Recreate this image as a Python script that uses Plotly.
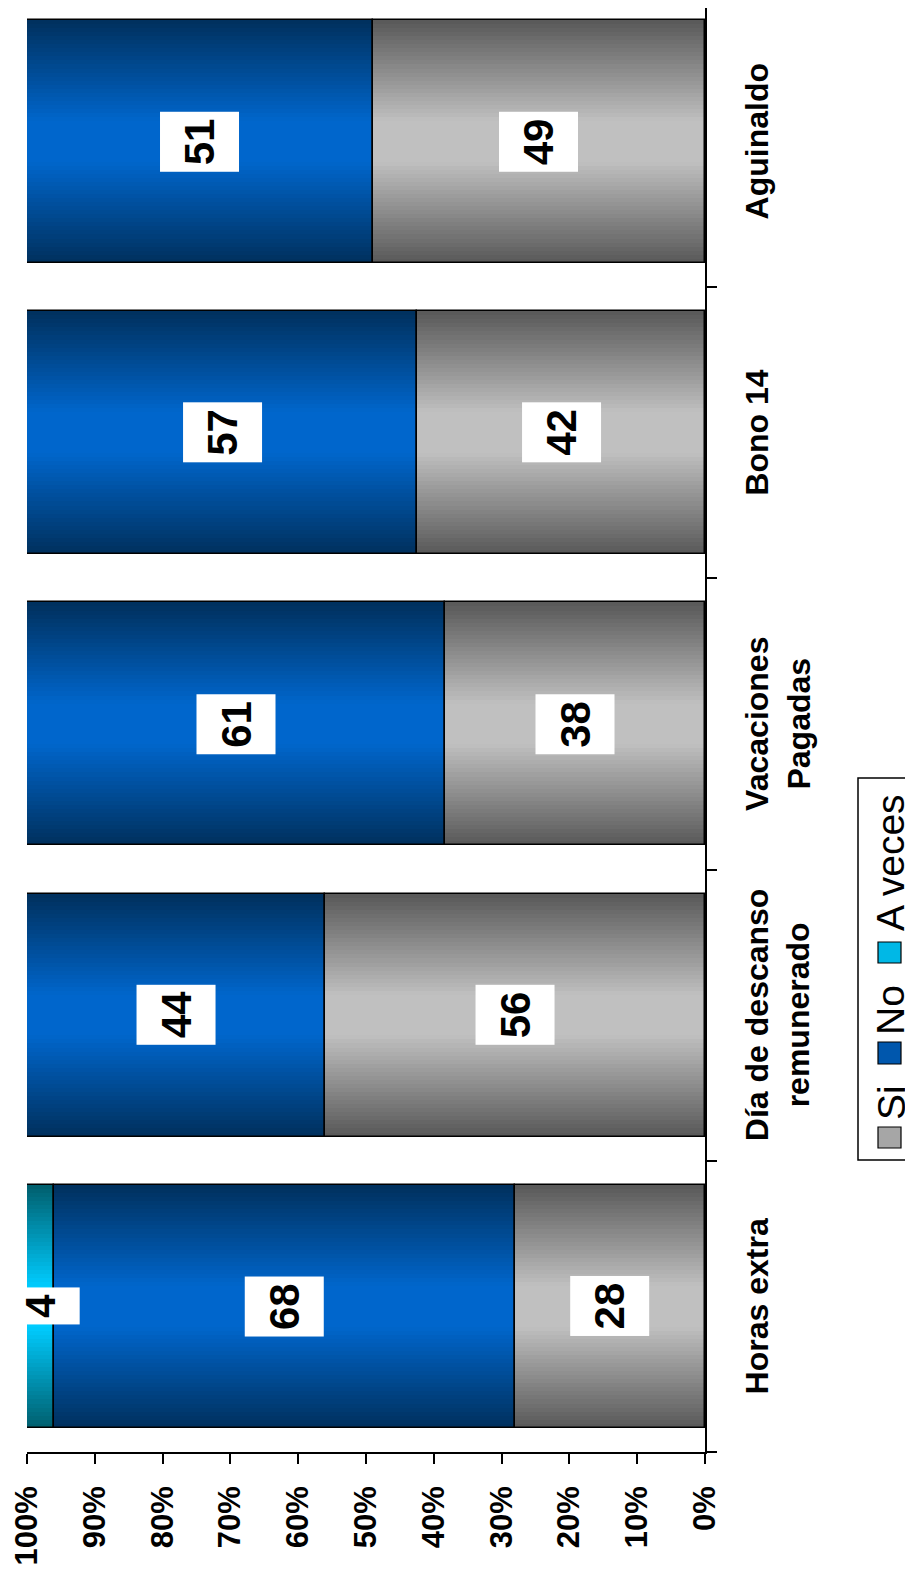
import plotly.graph_objects as go

# ---------------- data ----------------
categories = ["Horas extra", "Día de descanso<br>remunerado", "Vacaciones<br>Pagadas", "Bono 14", "Aguinaldo"]
series_names = ["Si", "No", "A veces"]
si_values = [28, 56, 38, 42, 49]
no_values = [68, 44, 61, 57, 51]
aveces_values = [4, 0, 0, 0, 0]
x_tick_values = [0, 10, 20, 30, 40, 50, 60, 70, 80, 90, 100]
x_tick_labels = ["0%", "10%", "20%", "30%", "40%", "50%", "60%", "70%", "80%", "90%", "100%"]

# ---------------- style ----------------
FONT = "Liberation Sans, Arial, sans-serif"
W, H = 913, 1575
OFF = 8  # browser default body margin
# plot area in page px
PL, PR, PB = 27, 705, 1452
BAND_PX = 291.25
BAR_W = 0.834
N_LAYERS = 30

pl, pr, pb = PL - OFF, PR - OFF, PB - OFF  # in figure px
y_top = -0.5 + pb / BAND_PX

series_styles = {
    "Si": ("#5a5a5a", "#c0c0c0", "#a6a6a6"),
    "No": ("#00315f", "#0066cc", "#0057ad"),
    "A veces": ("#00606f", "#00ccff", "#00b8e6"),
}


def hex2rgb(h):
    h = h.lstrip("#")
    return tuple(int(h[i:i + 2], 16) for i in (0, 2, 4))


def mix(c1, c2, t):
    a, b = hex2rgb(c1), hex2rgb(c2)
    return "rgb(%d,%d,%d)" % tuple(round(a[i] + (b[i] - a[i]) * t) for i in range(3))


def px_x(px):  # page px -> paper
    return (px - PL) / (PR - PL)


def px_y(py):  # page px -> paper
    return (PB - py) / pb


series_values = [si_values, no_values, aveces_values]
totals = [sum(v) for v in zip(*series_values)]
pct = [[v / t * 100 for v, t in zip(vals, totals)] for vals in series_values]
bases = []
running = [0.0] * len(categories)
for p in pct:
    bases.append(list(running))
    running = [r + q for r, q in zip(running, p)]

fig = go.Figure()

# gradient layers
for name, p, b in zip(series_names, pct, bases):
    dark, light, _ = series_styles[name]
    for k in range(N_LAYERS):
        frac = 1 - k / N_LAYERS
        s = min(1.0, max(0.0, (frac - 0.18) / 0.82))
        fig.add_trace(go.Bar(
            y=categories, x=p, base=b, orientation="h",
            width=[BAR_W * frac] * len(categories),
            marker=dict(color=mix(light, dark, s), line=dict(width=0)),
            showlegend=False, hoverinfo="skip",
        ))

# outlines
for name, p, b in zip(series_names, pct, bases):
    fig.add_trace(go.Bar(
        y=categories, x=p, base=b, orientation="h", name=name,
        width=[BAR_W] * len(categories),
        marker=dict(color="rgba(0,0,0,0)", line=dict(color="black", width=1.5)),
        showlegend=False,
    ))

annotations = []
# data labels
for vals, p, b in zip(series_values, pct, bases):
    for cat, v, pp, bb in zip(categories, vals, p, b):
        if v <= 0:
            continue
        annotations.append(dict(
            x=bb + pp / 2, y=cat, xref="x", yref="y", text="<b>%d</b>" % v,
            textangle=-90, showarrow=False, bgcolor="white", borderpad=6, height=66,
            font=dict(family=FONT, size=42, color="black"),
        ))

# category labels
for cat in categories:
    annotations.append(dict(
        x=px_x(737), y=cat, xref="paper", yref="y", text="<b>%s</b>" % cat,
        textangle=-90, showarrow=False, xanchor="left", yanchor="middle", align="center",
        font=dict(family=FONT, size=32, color="black"),
    ))

# legend (rotated, built from annotations + shapes)
shapes = [dict(type="rect", xref="paper", yref="paper",
               x0=px_x(858), x1=px_x(912), y0=px_y(1160), y1=px_y(778),
               line=dict(color="black", width=1.5), fillcolor="white", layer="below")]
legend_square_px = {"Si": (1127, 1148), "No": (1042, 1064), "A veces": (942, 963)}
legend_text_px = {"Si": 1103, "No": 1010, "A veces": 863}
for name in series_names:
    y0, y1 = legend_square_px[name]
    shapes.append(dict(type="rect", xref="paper", yref="paper",
                       x0=px_x(878), x1=px_x(901), y0=px_y(y1), y1=px_y(y0),
                       line=dict(color="black", width=1.2), fillcolor=series_styles[name][2]))
    annotations.append(dict(
        x=px_x(891), y=px_y(legend_text_px[name]), xref="paper", yref="paper",
        text=name, textangle=-90, showarrow=False, xanchor="center", yanchor="middle",
        font=dict(family=FONT, size=39, color="black"),
    ))

fig.update_layout(
    template="none",
    width=W, height=H,
    margin=dict(l=pl, r=W - pr, t=0, b=H - pb, pad=0, autoexpand=False),
    paper_bgcolor="white", plot_bgcolor="white",
    barmode="overlay", bargap=0,
    showlegend=False,
    annotations=annotations, shapes=shapes,
    xaxis=dict(
        range=[100, 0], tickvals=x_tick_values, ticktext=x_tick_labels,
        ticks="outside", ticklen=10, tickwidth=1.5, tickcolor="black",
        showline=True, linecolor="black", linewidth=1.5, automargin=False,
        showgrid=False, zeroline=False, tickangle=-90, ticklabelstandoff=10,
        tickfont=dict(family=FONT, size=31, color="black", weight="bold"),
    ),
    yaxis=dict(
        type="category", categoryorder="array", categoryarray=categories,
        side="right", range=[-0.5, y_top], automargin=False,
        ticks="outside", tickson="boundaries", ticklen=10, tickwidth=1.5, tickcolor="black",
        showticklabels=False, showline=True, linecolor="black", linewidth=1.5,
        showgrid=False, zeroline=False,
    ),
)

fig.write_html("out.html")
